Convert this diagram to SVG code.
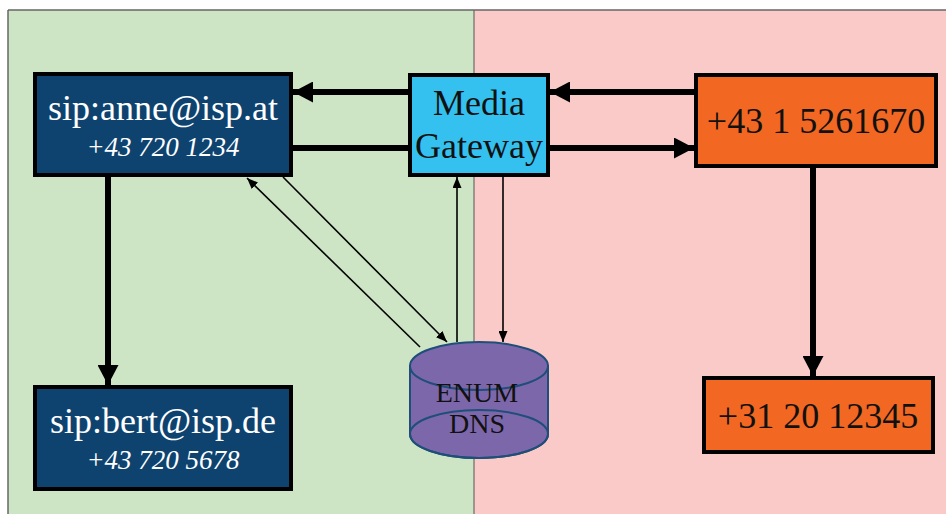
<svg xmlns="http://www.w3.org/2000/svg" width="946" height="514" viewBox="0 0 946 514">
  <style>
    .box { stroke: #000; stroke-width: 4; }
    .blue { fill: #0e4370; }
    .orange { fill: #f26722; }
    .gw { fill: #35c1ef; }
    .t { font-family: "Liberation Serif", "Times New Roman", serif; text-anchor: middle; }
    .big { font-size: 36px; }
    .sub { font-size: 27px; font-style: italic; }
    .db { font-size: 28px; }
    .white { fill: #ffffff; }
    .dark { fill: #111111; }
    .thick { stroke: #000; stroke-width: 6; fill: none; }
    .thin { stroke: #000; stroke-width: 1.6; fill: none; }
  </style>
  <defs>
    <marker id="headBig" markerUnits="userSpaceOnUse" markerWidth="20" markerHeight="21" refX="20" refY="10.5" orient="auto">
      <path d="M0,0 L20,10.5 L0,21 Z" fill="#000"/>
    </marker>
    <marker id="headSmall" markerUnits="userSpaceOnUse" markerWidth="11" markerHeight="9" refX="11" refY="4.5" orient="auto">
      <path d="M0,0 L11,4.5 L0,9 Z" fill="#000"/>
    </marker>
  </defs>

  <!-- background zones -->
  <rect x="0" y="0" width="946" height="514" fill="#ffffff"/>
  <rect x="8" y="10" width="466" height="504" fill="#cde5c4"/>
  <rect x="474" y="10" width="472" height="504" fill="#f9cac8"/>
  <line x1="474" y1="10" x2="474" y2="514" stroke="#555" stroke-width="1"/>
  <line x1="8" y1="10" x2="946" y2="10" stroke="#666" stroke-width="1.5"/>
  <line x1="8" y1="10" x2="8" y2="514" stroke="#666" stroke-width="1.5"/>

  <!-- connectors -->
  <g id="connectors">
    <line class="thick" x1="408" y1="92" x2="293" y2="92" marker-end="url(#headBig)"/>
    <line class="thick" x1="293" y1="148" x2="408" y2="148"/>
    <line class="thick" x1="694" y1="92" x2="550" y2="92" marker-end="url(#headBig)"/>
    <line class="thick" x1="550" y1="148" x2="694" y2="148" marker-end="url(#headBig)"/>
    <line class="thick" x1="108" y1="177" x2="108" y2="385" marker-end="url(#headBig)"/>
    <line class="thick" x1="813" y1="168" x2="813" y2="376" marker-end="url(#headBig)"/>
    <line class="thin" x1="420" y1="347" x2="247" y2="178" marker-end="url(#headSmall)"/>
    <line class="thin" x1="283" y1="177" x2="447" y2="342" marker-end="url(#headSmall)"/>
    <line class="thin" x1="457" y1="342" x2="457" y2="177" marker-end="url(#headSmall)"/>
    <line class="thin" x1="503" y1="177" x2="503" y2="342" marker-end="url(#headSmall)"/>
  </g>

  <g id="anne">
    <rect class="box blue" x="35" y="74" width="256" height="101"/>
    <text class="t big white" x="163" y="120">sip:anne@isp.at</text>
    <text class="t sub white" x="163" y="156">+43 720 1234</text>
  </g>

  <g id="bert">
    <rect class="box blue" x="35" y="387" width="256" height="102"/>
    <text class="t big white" x="163" y="433">sip:bert@isp.de</text>
    <text class="t sub white" x="163" y="469">+43 720 5678</text>
  </g>

  <g id="gateway">
    <rect class="box gw" x="410" y="75" width="138" height="100"/>
    <text class="t big dark" x="479" y="115">Media</text>
    <text class="t big dark" x="479" y="158">Gateway</text>
  </g>

  <g id="pstn-at">
    <rect class="box orange" x="696" y="75" width="240" height="91"/>
    <text class="t big dark" x="816" y="133">+43 1 5261670</text>
  </g>

  <g id="pstn-nl">
    <rect class="box orange" x="704" y="378" width="229" height="74"/>
    <text class="t big dark" x="818" y="428">+31 20 12345</text>
  </g>

  <g id="enum-dns">
    <path d="M410,366 L410,434 A69,24 0 0 0 548,434 L548,366 Z" fill="#7d67ab" stroke="#1f4e79" stroke-width="2"/>
    <ellipse cx="479" cy="366" rx="69" ry="24" fill="#7d67ab" stroke="#1f4e79" stroke-width="2"/>
    <ellipse cx="479" cy="434" rx="69" ry="24" fill="none" stroke="#1f4e79" stroke-width="2"/>
    <text class="t db dark" x="477" y="402">ENUM</text>
    <text class="t db dark" x="477" y="433">DNS</text>
  </g>
</svg>
